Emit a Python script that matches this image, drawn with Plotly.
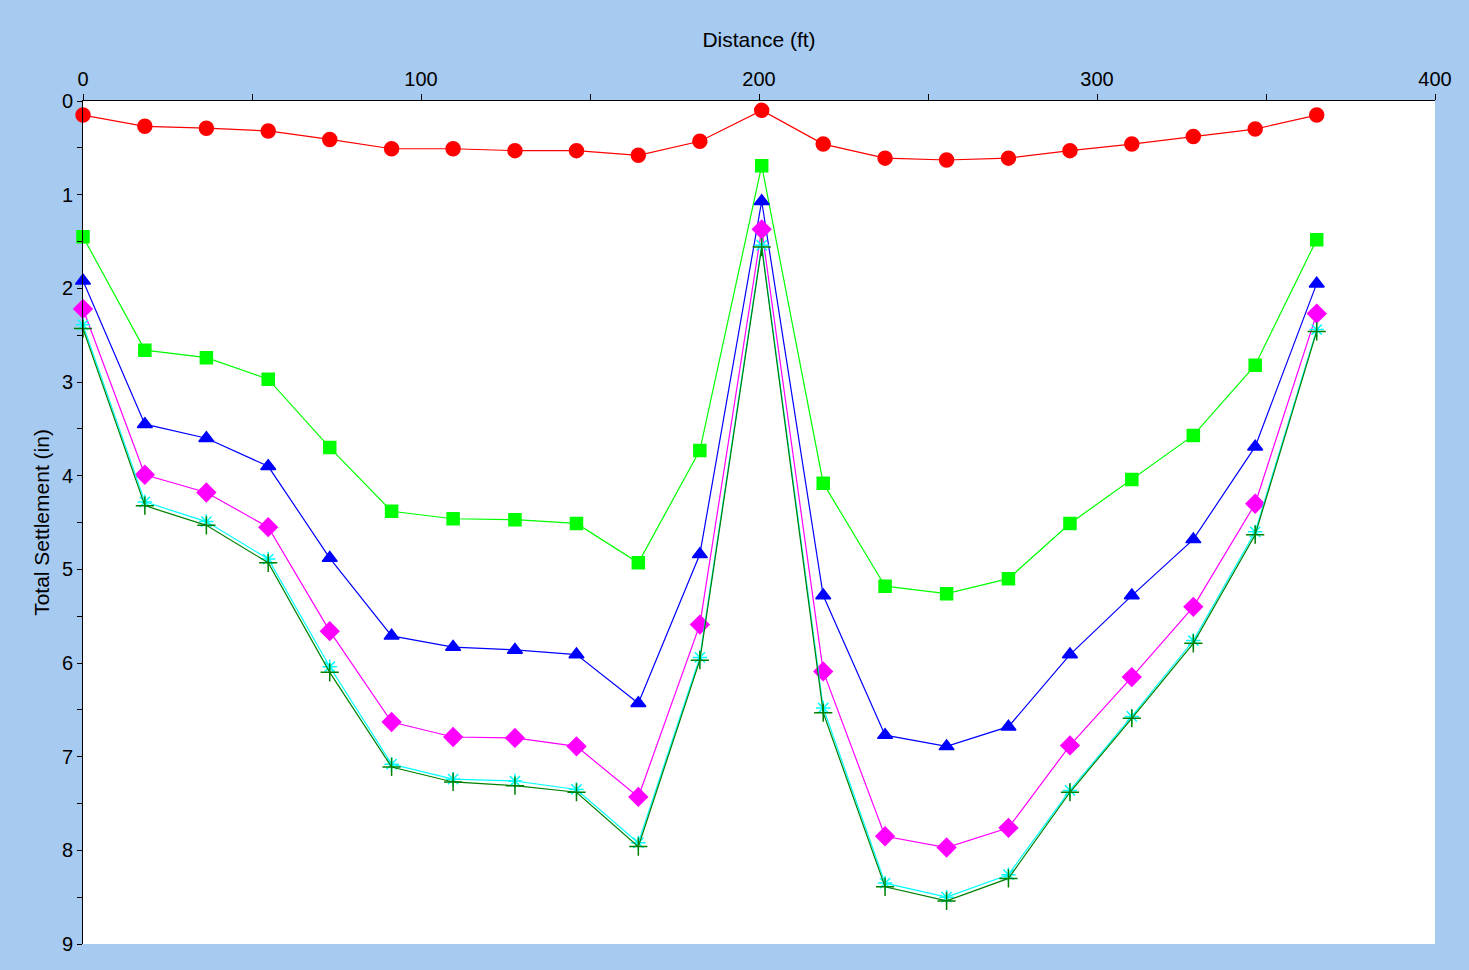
import plotly.graph_objects as go

distance = [0, 18.3, 36.5, 54.8, 73.0, 91.3, 109.5, 127.8, 146.0, 164.3, 182.5,
            200.8, 219.0, 237.3, 255.5, 273.8, 292.0, 310.3, 328.5, 346.8, 365.0]

s_red = [0.15, 0.27, 0.29, 0.32, 0.41, 0.51, 0.51, 0.53, 0.53, 0.58, 0.43,
         0.10, 0.46, 0.61, 0.63, 0.61, 0.53, 0.46, 0.38, 0.30, 0.15]
s_lime = [1.45, 2.66, 2.74, 2.97, 3.70, 4.38, 4.46, 4.47, 4.51, 4.93, 3.73,
          0.69, 4.08, 5.18, 5.26, 5.10, 4.51, 4.04, 3.57, 2.82, 1.48]
s_blue = [1.92, 3.45, 3.60, 3.90, 4.88, 5.71, 5.83, 5.86, 5.91, 6.43, 4.84,
          1.07, 5.28, 6.77, 6.89, 6.68, 5.91, 5.28, 4.68, 3.69, 1.95]
s_magenta = [2.22, 3.99, 4.18, 4.55, 5.66, 6.63, 6.79, 6.80, 6.89, 7.43, 5.59,
             1.37, 6.09, 7.85, 7.97, 7.76, 6.88, 6.15, 5.40, 4.30, 2.27]
s_cyan = [2.39, 4.28, 4.49, 4.89, 6.04, 7.08, 7.24, 7.26, 7.35, 7.92, 5.94,
          1.54, 6.48, 8.35, 8.50, 8.26, 7.36, 6.57, 5.76, 4.60, 2.44]
s_green = [2.43, 4.32, 4.53, 4.93, 6.10, 7.11, 7.27, 7.31, 7.38, 7.96, 5.97,
           1.56, 6.53, 8.39, 8.54, 8.30, 7.38, 6.59, 5.79, 4.63, 2.46]

series = [
    (s_red, "#ff0000", "circle", 14),
    (s_lime, "#00ff00", "square", 12),
    (s_blue, "#0000ff", "triangle-up", 13),
    (s_magenta, "#ff00ff", "diamond", 14),
    (s_cyan, "#00ffff", "asterisk-open", 12),
    (s_green, "#008000", "cross-thin-open", 13),
]

fig = go.Figure()
for ys, col, sym, sz in series:
    fig.add_trace(go.Scatter(
        x=distance, y=ys, mode="lines+markers",
        line=dict(color=col, width=1.2),
        marker=dict(symbol=sym, size=sz, color=col,
                    line=dict(color=col, width=1.5)),
        showlegend=False, cliponaxis=False))

font = dict(family="Liberation Sans, Arial, sans-serif", size=20, color="#000000")

fig.update_layout(
    width=1469, height=970,
    margin=dict(l=83, r=34, t=101, b=26),
    paper_bgcolor="#A6CAF0", plot_bgcolor="#ffffff",
    font=font,
    xaxis=dict(side="top", range=[0, 400], dtick=100, tick0=0,
               showgrid=False, zeroline=False, showline=True,
               linecolor="#000000", linewidth=1,
               ticks="outside", ticklen=6, tickcolor="#000000",
               minor=dict(dtick=50, ticks="outside", ticklen=6, tickcolor="#000000", showgrid=False),
               title=dict(text="Distance (ft)", font=dict(size=21), standoff=14),
               tickfont=dict(size=20)),
    yaxis=dict(range=[9, 0], dtick=1, tick0=0,
               showgrid=False, zeroline=False, showline=True,
               linecolor="#000000", linewidth=1,
               ticks="outside", ticklen=5, tickcolor="#000000",
               minor=dict(dtick=0.5, ticks="outside", ticklen=5, tickcolor="#000000", showgrid=False),
               title=dict(text="Total Settlement (in)", font=dict(size=21), standoff=6),
               tickfont=dict(size=20)),
)

fig.write_html("out.html")
